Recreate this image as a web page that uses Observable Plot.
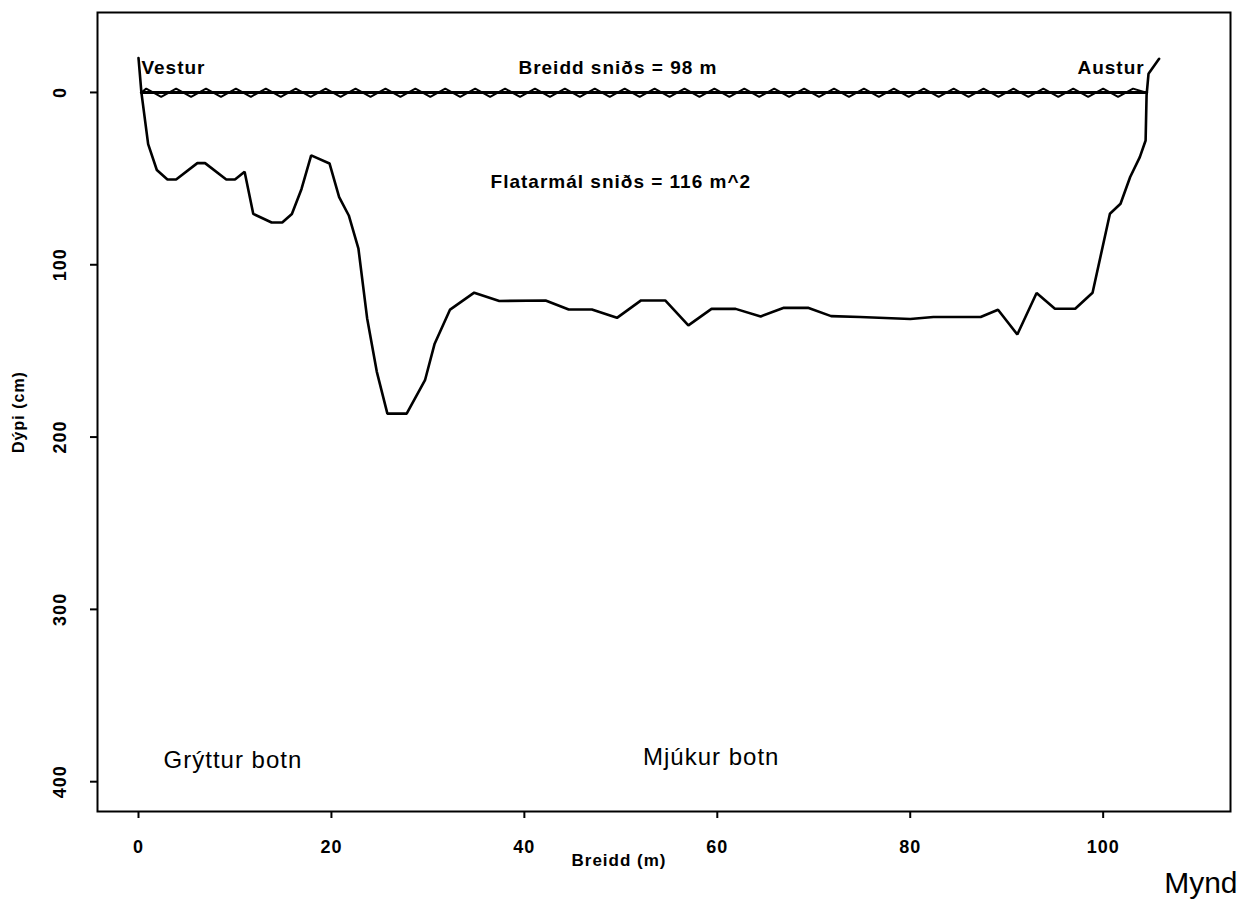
<!DOCTYPE html>
<html>
<head>
<meta charset="utf-8">
<script src="https://cdn.jsdelivr.net/npm/d3@7"></script>
<script src="https://cdn.jsdelivr.net/npm/@observablehq/plot@0.6"></script>
<style>
  html, body { margin: 0; padding: 0; background: #fff; }
  #chart { width: 1238px; height: 899px; overflow: hidden; }
</style>
</head>
<body>
<div id="chart"></div>
<script>
// Cross-section profile: distance across (m) and depth (cm)
const profileX = [0, 0.3, 1.0, 1.9, 3.0, 3.9, 6.1, 6.9, 9.1, 10.0, 11.0, 11.9, 13.8, 14.9, 15.9, 16.9, 17.9, 19.8, 20.8, 21.8, 22.8, 23.7, 24.7, 25.8, 27.8, 29.7, 30.7, 32.3, 34.8, 37.4, 42.2, 44.6, 47.0, 49.6, 52.1, 54.6, 57.0, 59.4, 61.9, 64.5, 66.9, 69.4, 71.8, 74.8, 80.0, 82.4, 87.3, 89.1, 91.1, 93.1, 95.0, 97.1, 98.9, 100.7, 101.8, 102.8, 103.8, 104.4, 104.5, 104.7, 105.8];
const profileDepth = [-20, 0, 30, 45, 50.5, 50.5, 41, 41, 50.5, 50.5, 46, 70.5, 75.5, 75.5, 70.5, 56, 36.5, 41.2, 60.7, 71.4, 90.7, 131, 162, 186.4, 186.4, 167, 145.8, 126, 116.2, 121, 120.7, 126, 126, 130.8, 120.7, 120.7, 135.2, 125.6, 125.6, 130, 125, 125, 129.8, 130.3, 131.5, 130.3, 130.3, 126.1, 140.5, 116.4, 125.5, 125.5, 116.2, 70.4, 64.6, 49.1, 37.5, 27.9, 1.7, -10.8, -19.5];

// Water surface: flat line and wave symbol
const surfaceX = [0.3, 104.5];
const surfaceY = [0, 0];
const waveX = [0.3, 0.8, 2.35, 3.9, 5.45, 7.0, 8.55, 10.1, 11.65, 13.2, 14.75, 16.3, 17.85, 19.4, 20.95, 22.5, 24.05, 25.6, 27.15, 28.7, 30.25, 31.8, 33.35, 34.9, 36.45, 38.0, 39.55, 41.1, 42.65, 44.2, 45.75, 47.3, 48.85, 50.4, 51.95, 53.5, 55.05, 56.6, 58.15, 59.7, 61.25, 62.8, 64.35, 65.9, 67.45, 69.0, 70.55, 72.1, 73.65, 75.2, 76.75, 78.3, 79.85, 81.4, 82.95, 84.5, 86.05, 87.6, 89.15, 90.7, 92.25, 93.8, 95.35, 96.9, 98.45, 100.0, 101.55, 103.1, 104.4];
const waveY = [0, -2.2, 2.5, -2.2, 2.5, -2.2, 2.5, -2.2, 2.5, -2.2, 2.5, -2.2, 2.5, -2.2, 2.5, -2.2, 2.5, -2.2, 2.5, -2.2, 2.5, -2.2, 2.5, -2.2, 2.5, -2.2, 2.5, -2.2, 2.5, -2.2, 2.5, -2.2, 2.5, -2.2, 2.5, -2.2, 2.5, -2.2, 2.5, -2.2, 2.5, -2.2, 2.5, -2.2, 2.5, -2.2, 2.5, -2.2, 2.5, -2.2, 2.5, -2.2, 2.5, -2.2, 2.5, -2.2, 2.5, -2.2, 2.5, -2.2, 2.5, -2.2, 2.5, -2.2, 2.5, -2.2, 2.5, -2.2, 0];

// Ticks
const xTicks = [0, 20, 40, 60, 80, 100];
const yTicks = [0, 100, 200, 300, 400];

// Annotations
const westLabel = ["Vestur"];
const eastLabel = ["Austur"];
const midNotes = ["Breidd sniðs = 98 m", "Flatarmál sniðs = 116 m^2"];
const midNoteX = [49.7, 50.0];
const midNoteY = [-14, 52];
const bottomNotes = ["Grýttur botn", "Mjúkur botn"];
const bottomNoteX = [2.6, 52.3];
const bottomNoteY = [387.5, 386];

const profile = profileX.map((x, i) => ({x, y: profileDepth[i]}));
const surface = surfaceX.map((x, i) => ({x, y: surfaceY[i]}));
const wave = waveX.map((x, i) => ({x, y: waveY[i]}));
const mid = midNotes.map((t, i) => ({t, x: midNoteX[i], y: midNoteY[i]}));
const bottom = bottomNotes.map((t, i) => ({t, x: bottomNoteX[i], y: bottomNoteY[i]}));

const font = "'Liberation Sans', Arial, Helvetica, sans-serif";

const chart = Plot.plot({
  width: 1238,
  height: 899,
  marginLeft: 97,
  marginRight: 8,
  marginTop: 12,
  marginBottom: 88,
  style: {fontFamily: font, color: "black", background: "white", overflow: "visible"},
  x: {domain: [-4.25, 113.2], label: null},
  y: {domain: [-46.4, 417.3], reverse: true, label: null},
  marks: [
    Plot.frame({stroke: "black", strokeWidth: 2}),
    Plot.axisX(xTicks, {tickSize: 7, tickPadding: 22, strokeWidth: 2, fontSize: 18, fontWeight: "bold", label: null}),
    Plot.axisY(yTicks, {tickSize: 7, strokeWidth: 2, tickFormat: () => "", label: null}),
    Plot.text(yTicks, {y: d => d, text: d => String(d), frameAnchor: "left", dx: -37, rotate: -90, textAnchor: "middle", lineAnchor: "middle", fontSize: 18, fontWeight: "bold", fill: "black"}),
    Plot.line(surface, {x: "x", y: "y", stroke: "black", strokeWidth: 3}),
    Plot.line(wave, {x: "x", y: "y", stroke: "black", strokeWidth: 2}),
    Plot.line(profile, {x: "x", y: "y", stroke: "black", strokeWidth: 2.6, strokeLinejoin: "miter"}),
    Plot.text(westLabel, {x: [0.3], y: [-14], text: d => d, textAnchor: "start", fontSize: 19, fontWeight: "bold", fill: "black", lineAnchor: "middle"}),
    Plot.text(eastLabel, {x: [104.3], y: [-14], text: d => d, textAnchor: "end", fontSize: 19, fontWeight: "bold", fill: "black", lineAnchor: "middle"}),
    Plot.text(mid, {x: "x", y: "y", text: "t", textAnchor: "middle", fontSize: 19, fontWeight: "bold", fill: "black", lineAnchor: "middle"}),
    Plot.text(bottom, {x: "x", y: "y", text: "t", textAnchor: "start", fontSize: 24, fill: "black", lineAnchor: "middle"}),
    Plot.text(["Breidd (m)"], {frameAnchor: "bottom", dx: -45, dy: 49, text: d => d, textAnchor: "middle", lineAnchor: "middle", fontSize: 17, fontWeight: "bold", fill: "black"}),
    Plot.text(["Dýpi (cm)"], {frameAnchor: "left", dx: -79, rotate: -90, text: d => d, textAnchor: "middle", lineAnchor: "middle", fontSize: 16, fontWeight: "bold", fill: "black"}),
    Plot.text(["Mynd"], {frameAnchor: "bottom-right", dx: 7, dy: 81, text: d => d, textAnchor: "end", lineAnchor: "bottom", fontSize: 30, fontFamily: "'Liberation Sans Narrow', 'Liberation Sans', Arial, sans-serif", fill: "black"})
  ]
});
d3.select(chart).selectAll("text").style("letter-spacing", "1px");
d3.select(chart).selectAll("text").filter(function() { return this.textContent === "Mynd"; }).style("letter-spacing", "0px");
document.getElementById("chart").appendChild(chart);
</script>
</body>
</html>
